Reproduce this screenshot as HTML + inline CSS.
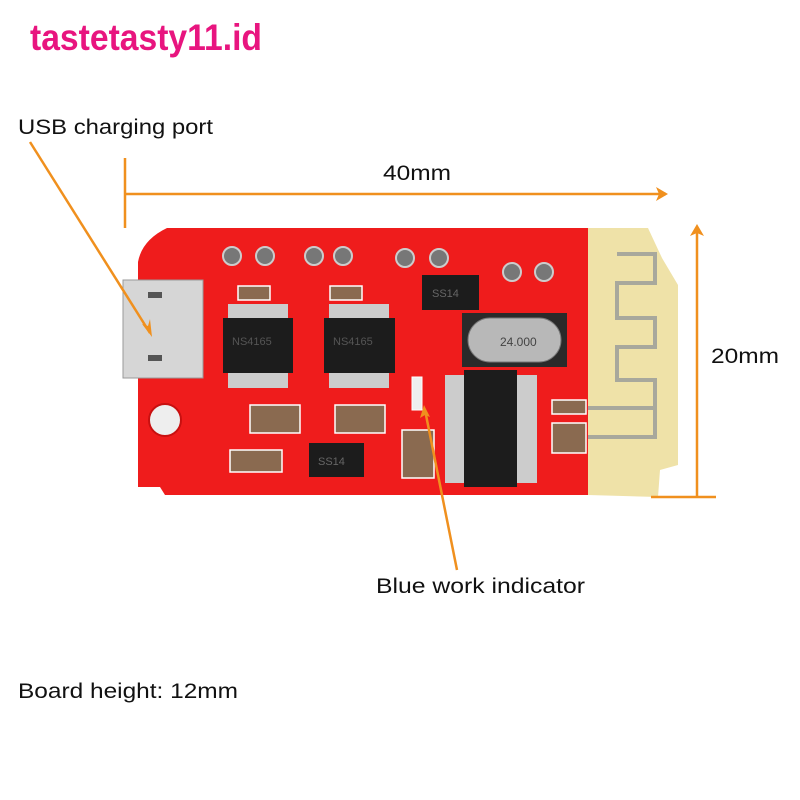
<!DOCTYPE html>
<html><head><meta charset="utf-8"><style>
html,body{margin:0;padding:0;background:#fff;}
svg{display:block;}
text{font-family:"Liberation Sans",sans-serif;}
</style></head><body>
<svg width="800" height="800" viewBox="0 0 800 800" xmlns="http://www.w3.org/2000/svg">
<rect width="800" height="800" fill="#fff"/>
<text x="30" y="50" font-size="37" font-weight="bold" fill="#e8157f" textLength="232" lengthAdjust="spacingAndGlyphs">tastetasty11.id</text>
<text x="18" y="134" font-size="21" fill="#111" textLength="195" lengthAdjust="spacingAndGlyphs">USB charging port</text>
<text x="383" y="180" font-size="21" fill="#111" textLength="68" lengthAdjust="spacingAndGlyphs">40mm</text>
<text x="711" y="363" font-size="21" fill="#111" textLength="68" lengthAdjust="spacingAndGlyphs">20mm</text>
<text x="376" y="593" font-size="21" fill="#111" textLength="209" lengthAdjust="spacingAndGlyphs">Blue work indicator</text>
<text x="18" y="698" font-size="21" fill="#111" textLength="220" lengthAdjust="spacingAndGlyphs">Board height: 12mm</text>

<!-- board -->
<path d="M588 228 L648 228 L662 258 L678 285 L678 465 L660 470 L658 497 L588 495 Z" fill="#efe2a8"/>
<path d="M167 228 L588 228 L588 495 L165 495 L160 487 L138 487 L138 262 Q142 240 167 228 Z" fill="#ef1c1c"/>
<circle cx="165" cy="420" r="16" fill="#eee" stroke="#c81010" stroke-width="2"/>
<!-- antenna -->
<path d="M617 254 H655 V283 H617 V318 H655 V347 H617 V380 H655 V437 H588 M588 408 H655" fill="none" stroke="#a8a89c" stroke-width="4"/>
<!-- USB -->
<rect x="123" y="280" width="80" height="98" fill="#d6d6d6" stroke="#999"/>
<rect x="148" y="292" width="14" height="6" fill="#555"/>
<rect x="148" y="355" width="14" height="6" fill="#555"/>
<!-- pads -->
<g fill="#777" stroke="#ccc" stroke-width="2">
<circle cx="232" cy="256" r="9"/><circle cx="265" cy="256" r="9"/>
<circle cx="314" cy="256" r="9"/><circle cx="343" cy="256" r="9"/>
<circle cx="405" cy="258" r="9"/><circle cx="439" cy="258" r="9"/>
<circle cx="512" cy="272" r="9"/><circle cx="544" cy="272" r="9"/>
</g>
<!-- chips -->
<g fill="#ccc">
<rect x="228" y="304" width="60" height="84"/>
<rect x="329" y="304" width="60" height="84"/>
<rect x="445" y="375" width="92" height="108"/>
</g>
<rect x="223" y="318" width="70" height="55" fill="#1c1c1c"/>
<rect x="324" y="318" width="71" height="55" fill="#1c1c1c"/>
<text x="232" y="345" font-size="11" fill="#555">NS4165</text>
<text x="333" y="345" font-size="11" fill="#555">NS4165</text>
<rect x="462" y="313" width="105" height="54" fill="#2a2a2a"/>
<rect x="468" y="318" width="93" height="44" rx="22" fill="#b8b8b8" stroke="#777"/>
<text x="500" y="346" font-size="12" fill="#444">24.000</text>
<rect x="464" y="370" width="53" height="117" fill="#1c1c1c"/>
<rect x="422" y="275" width="57" height="35" fill="#1c1c1c"/>
<text x="432" y="297" font-size="11" fill="#666">SS14</text>
<rect x="309" y="443" width="55" height="34" fill="#1c1c1c"/>
<text x="318" y="465" font-size="11" fill="#666">SS14</text>
<!-- small caps -->
<g fill="#8a6a50" stroke="#fff" stroke-width="1.5">
<rect x="238" y="286" width="32" height="14"/><rect x="330" y="286" width="32" height="14"/>
<rect x="250" y="405" width="50" height="28"/><rect x="335" y="405" width="50" height="28"/>
<rect x="402" y="430" width="32" height="48"/><rect x="230" y="450" width="52" height="22"/>
<rect x="552" y="400" width="34" height="14"/><rect x="552" y="423" width="34" height="30"/>
</g>
<rect x="412" y="377" width="10" height="33" fill="#eee" stroke="#fff"/>

<!-- orange dimension lines -->
<g stroke="#f0901e" stroke-width="2.5" fill="none">
<line x1="125" y1="158" x2="125" y2="228"/>
<line x1="125" y1="194" x2="666" y2="194"/>
<line x1="697" y1="228" x2="697" y2="497"/>
<line x1="651" y1="497" x2="716" y2="497"/>
<line x1="30" y1="142" x2="150" y2="333"/>
<line x1="425" y1="410" x2="457" y2="570"/>
</g>
<g fill="#f0901e">
<polygon points="668,194 656,187 659,194 656,201"/>
<polygon points="697,224 690,236 697,233 704,236"/>
<polygon points="152,337 142,324 148,326 150,319"/>
<polygon points="424,405 420,418 425,415 430,417"/>
</g>
</svg>
</body></html>
